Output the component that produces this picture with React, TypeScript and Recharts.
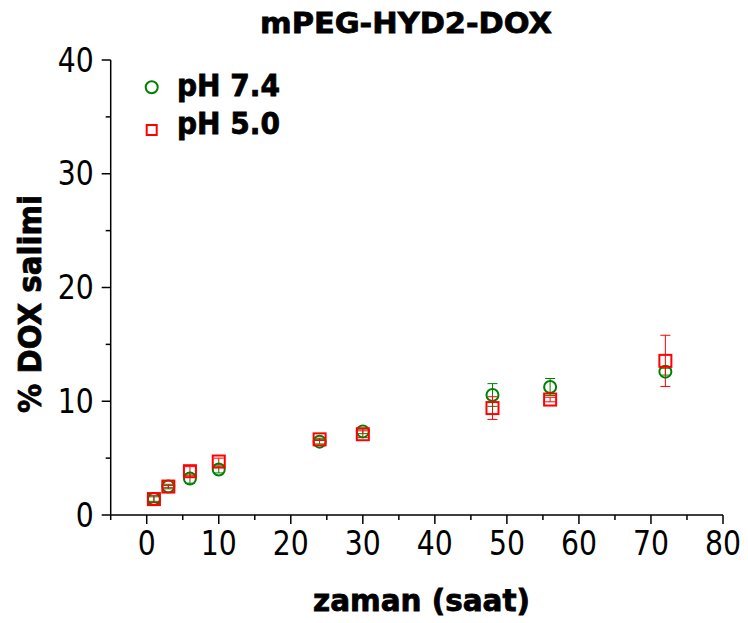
import React from "react"
import { ScatterChart, Scatter, XAxis, YAxis, ErrorBar } from "recharts"

// sampling times (hours)
const hours = [1, 3, 6, 10, 24, 30, 48, 56, 72]
// % DOX released, pH 7.4
const ph74 = [1.4, 2.5, 3.2, 4.0, 6.45, 7.35, 10.55, 11.25, 12.6]
const ph74Err = [0.2, 0.2, 0.4, 0.3, 0.2, 0.2, 1.0, 0.75, 0.3]
// % DOX released, pH 5.0
const ph50 = [1.4, 2.5, 3.85, 4.7, 6.65, 7.1, 9.4, 10.15, 13.55]
const ph50Err = [0.3, 0.1, 0.4, 0.3, 0.1, 0.3, 1.0, 0.2, 2.25]

const xTicks = [-5, 0, 5, 10, 15, 20, 25, 30, 35, 40, 45, 50, 55, 60, 65, 70, 75, 80]
const yTicks = [0, 5, 10, 15, 20, 25, 30, 35, 40]

const GREEN = "#008000"
const RED = "#ff0000"
const FONT = "'DejaVu Sans', Verdana, sans-serif"

const data74 = hours.map((h, i) => ({ x: h, y: ph74[i], err: ph74Err[i] }))
const data50 = hours.map((h, i) => ({ x: h, y: ph50[i], err: ph50Err[i] }))

const XTick = (props: any) => {
  const { x, y, payload } = props
  const v = payload.value
  const major = v % 10 === 0 && v >= 0
  return (
    <g>
      <line x1={x} y1={y} x2={x} y2={y + (major ? 9 : 5)} stroke="#000" strokeWidth={1.5} />
      {major && (
        <text x={x} y={y + 40} textAnchor="middle" fontSize={33} fontFamily={FONT} fill="#000"
          textLength={String(v).length * 18} lengthAdjust="spacingAndGlyphs">
          {v}
        </text>
      )}
    </g>
  )
}

const YTick = (props: any) => {
  const { x, y, payload } = props
  const v = payload.value
  const major = v % 10 === 0
  return (
    <g>
      <line x1={x - (major ? 9 : 5)} y1={y} x2={x} y2={y} stroke="#000" strokeWidth={1.5} />
      {major && (
        <text x={x - 17} y={y + 11.5} textAnchor="end" fontSize={33} fontFamily={FONT} fill="#000"
          textLength={String(v).length * 18} lengthAdjust="spacingAndGlyphs">
          {v}
        </text>
      )}
    </g>
  )
}

const CircleShape = (props: any) => (
  <circle cx={props.cx} cy={props.cy} r={6} fill="none" stroke={GREEN} strokeWidth={2} />
)

const SquareShape = (props: any) => (
  <rect x={props.cx - 6} y={props.cy - 6} width={12} height={12} fill="none" stroke={RED} strokeWidth={2} />
)

export default function App() {
  return (
    <div style={{ position: "absolute", left: 0, top: 0, width: 748, height: 623, background: "#fff" }}>
      <ScatterChart width={748} height={623} margin={{ top: 60, right: 25, bottom: 0, left: 0 }}>
        <XAxis
          type="number"
          dataKey="x"
          domain={[-5, 80]}
          ticks={xTicks}
          interval={0}
          tickSize={0}
          tickMargin={0}
          tickLine={false}
          tick={<XTick />}
          axisLine={{ stroke: "#000", strokeWidth: 1.5 }}
          height={108}
          allowDataOverflow
        />
        <YAxis
          type="number"
          dataKey="y"
          domain={[0, 40]}
          ticks={yTicks}
          interval={0}
          tickSize={0}
          tickMargin={0}
          tickLine={false}
          tick={<YTick />}
          axisLine={{ stroke: "#000", strokeWidth: 1.5 }}
          width={110.7}
          allowDataOverflow
        />
        <Scatter name="pH 7.4" data={data74} shape={<CircleShape />} isAnimationActive={false}>
          <ErrorBar dataKey="err" direction="y" width={5} stroke={GREEN} strokeWidth={1} />
        </Scatter>
        <Scatter name="pH 5.0" data={data50} shape={<SquareShape />} isAnimationActive={false}>
          <ErrorBar dataKey="err" direction="y" width={5} stroke={RED} strokeWidth={1} />
        </Scatter>
      </ScatterChart>
      <svg width={748} height={623} style={{ position: "absolute", left: 0, top: 0, pointerEvents: "none" }}>
        <text x={260} y={33} fontSize={29} fontWeight="bold" fontFamily={FONT} textLength={292} lengthAdjust="spacingAndGlyphs"
          stroke="#000" strokeWidth={0.8}>
          mPEG-HYD2-DOX
        </text>
        <text x={313} y={611} fontSize={30} fontWeight="bold" fontFamily={FONT} textLength={217} lengthAdjust="spacingAndGlyphs"
          stroke="#000" strokeWidth={0.8}>
          zaman (saat)
        </text>
        <text
          x={0}
          y={0}
          transform="translate(41,413) rotate(-90)"
          fontSize={32}
          fontWeight="bold"
          fontFamily={FONT}
          textLength={218}
          lengthAdjust="spacingAndGlyphs"
          stroke="#000"
          strokeWidth={0.8}
        >
          % DOX salimi
        </text>
        <circle cx={151.7} cy={87.3} r={6} fill="none" stroke={GREEN} strokeWidth={2} />
        <text x={177} y={96} fontSize={30} fontWeight="bold" fontFamily={FONT} textLength={103} lengthAdjust="spacingAndGlyphs"
          stroke="#000" strokeWidth={0.8}>
          pH 7.4
        </text>
        <rect x={146.7} y={125} width={10} height={10} fill="none" stroke={RED} strokeWidth={2} />
        <text x={177} y={134} fontSize={30} fontWeight="bold" fontFamily={FONT} textLength={103} lengthAdjust="spacingAndGlyphs"
          stroke="#000" strokeWidth={0.8}>
          pH 5.0
        </text>
      </svg>
    </div>
  )
}
